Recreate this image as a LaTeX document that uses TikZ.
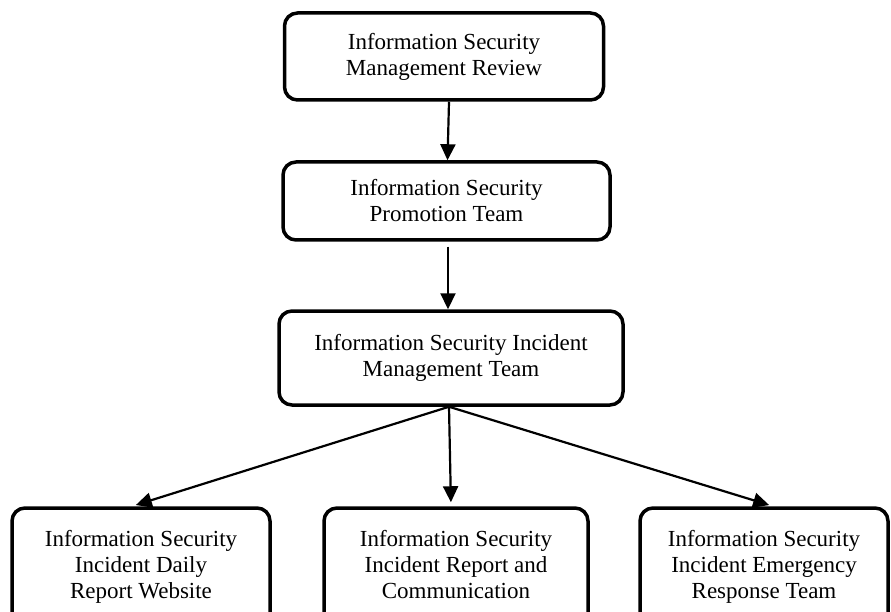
\documentclass[tikz,border=0pt]{standalone}
\usepackage{fontspec}
\setmainfont{Liberation Serif}
\usetikzlibrary{arrows.meta,positioning}

\tikzset{
  box/.style={draw,line width=3.5pt,rounded corners=13pt,align=center,
    font=\fontsize{23}{26}\selectfont},
  link/.style={line width=2.2pt,-{Triangle[length=16pt,width=15pt]}}
}

\begin{document}
\begin{tikzpicture}[x=1pt,y=-1pt]
\useasboundingbox (0,0) rectangle (891,612);
\clip (0,0) rectangle (891,612);
% upper chain
\node[box,minimum width=319pt,minimum height=87pt] (review) at (444,56.5) {Information Security\\Management Review};
\node[box,minimum width=327pt,minimum height=78pt] (promo) at (446.5,201) {Information Security\\Promotion Team};
\node[box,minimum width=344pt,minimum height=94pt] (incident) at (451,358) {Information Security Incident\\Management Team};
% lower row
\node[box,minimum width=258pt,minimum height=120pt] (daily) at (141,568) {Information Security\\Incident Daily\\Report Website\strut};
\node[box,minimum width=264pt,minimum height=120pt] (report) at (456,568) {Information Security\\Incident Report and\\Communication\strut};
\node[box,minimum width=248pt,minimum height=120pt] (emerg) at (764,568) {Information Security\\Incident Emergency\\Response Team\strut};

\draw[link] ([xshift=5pt]review.south) -- ([xshift=1pt]promo.north);
\draw[link] ([xshift=1.5pt,yshift=-5pt]promo.south) -- ([xshift=-3pt]incident.north);
\foreach \n/\dx in {daily/-9pt,report/-5pt,emerg/9pt}
  \draw[link,shorten >=4pt] ([xshift=-2pt]incident.south) -- ([xshift=\dx]\n.north);
\end{tikzpicture}
\end{document}
